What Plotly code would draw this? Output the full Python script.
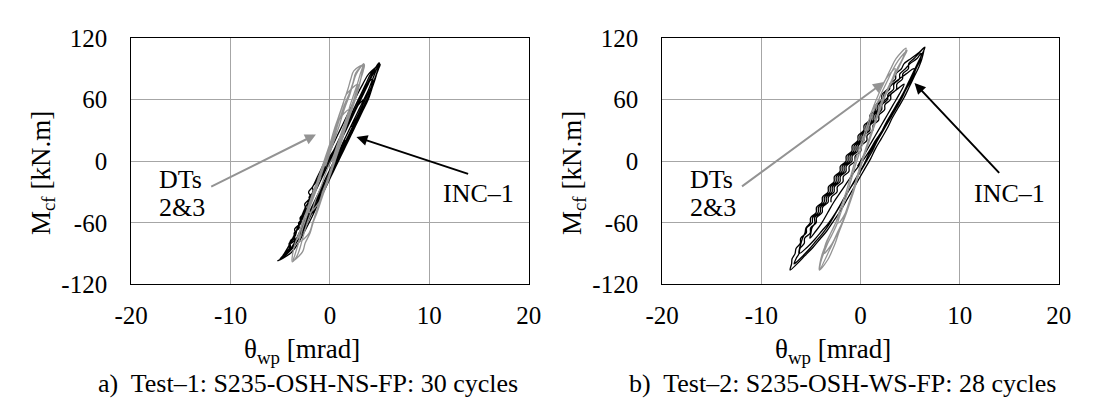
import plotly.graph_objects as go

# ---------------- data ----------------
# Test-1 (S235-OSH-NS-FP): INC-1 inclinometer, panel-zone rotation [mrad] vs column-flange moment [kN.m]
t1_inc_theta = [0.6, 1.1, 1.6, 2.1, 2.6, 3.1, 3.4,
                2.5, 2.0, 1.5, 1.0, 0.5, -0.2, -0.7, -1.2, -1.7, -2.2, -2.7, -3.0,
                -1.75, -1.25, -0.75, -0.25, 0.25, 0.75, 1.25, 1.75, 2.25, 2.75, 3.25, 3.75, 4.1, 4.3,
                3.4, 2.85, 2.35, 1.85, 1.35, 0.85, 0.35, -0.35, -0.85, -1.35, -1.75, -1.7, -2.1, -2.0, -2.5, -2.4, -2.9, -2.9, -3.3, -3.4, -3.9,
                -2.95, -2.45, -1.95, -1.45, -0.95, -0.45, 0.05, 0.55, 1.05, 1.55, 2.1, 2.3, 2.2, 2.55, 3.05, 3.55, 4.05, 4.5, 4.85, 5.0,
                4.1, 3.6, 3.1, 2.6, 2.1, 1.6, 1.1, 0.6, 0.1, -0.4, -0.9, -1.35, -1.3, -1.75, -1.7, -2.2, -2.15, -2.65, -2.6, -3.15, -3.1, -3.6, -3.55, -4.1, -4.1, -4.6, -4.75, -5.25,
                -4.0, -3.2, -2.65, -2.1, -1.6, -1.15, -0.65, -0.15, 0.35, 0.85, 1.35, 1.85, 2.35, 2.85, 3.35, 3.85, 4.2, 4.55, 4.8, 5.05,
                3.9, 3.3, 2.75, 2.25, 1.75, 1.25, 0.75, 0.25, -0.25, -0.75, -1.25, -1.75, -2.15, -1.95, -2.55, -2.35, -3.0, -2.95, -3.55, -3.45, -4.0, -4.0, -4.55, -5.1,
                -4.2, -3.6, -3.1, -2.6, -2.1, -1.6, -1.1, -0.6, -0.1, 0.4, 0.9, 1.4, 1.9, 2.4, 2.9, 3.4, 3.9, 4.3, 4.7, 4.95,
                4.4, 3.9, 3.4, 2.9, 2.4, 1.9, 1.4, 0.9, 0.4, 0.0, -0.5, -1.0, -1.5, -2.0, -2.5, -3.0, -3.5, -4.0, -4.6, -5.0,
                -3.8, -3.1, -2.55, -2.05, -1.55, -1.05, -0.55, -0.05, 0.45, 0.95, 1.45, 1.95, 2.45, 2.95, 3.45, 3.95, 4.35, 4.7, 4.95,
                4.35, 3.85, 3.35, 2.85, 2.35, 1.85, 1.35, 0.85, 0.35, -0.15]
t1_inc_moment = [0, 10, 20, 30, 40, 50, 60,
                 50, 40, 30, 20, 10, 0, -10, -20, -30, -40, -50, -60,
                 -50, -40, -30, -20, -10, 0, 10, 20, 30, 40, 50, 60, 70, 80,
                 70, 60, 50, 40, 30, 20, 10, 0, -10, -20, -25, -30, -35, -40, -45, -50, -55, -60, -65, -70, -80,
                 -70, -60, -50, -40, -30, -20, -10, 0, 10, 20, 25, 30, 35, 40, 50, 60, 70, 80, 90, 95,
                 85, 75, 65, 55, 45, 35, 25, 15, 5, -5, -15, -20, -25, -30, -35, -40, -45, -50, -55, -60, -65, -70, -75, -80, -85, -90, -94, -97,
                 -90, -80, -70, -60, -50, -40, -30, -20, -10, 0, 10, 20, 30, 40, 50, 60, 70, 80, 88, 94,
                 85, 75, 65, 55, 45, 35, 25, 15, 5, -5, -15, -25, -30, -35, -42, -48, -55, -60, -66, -72, -78, -84, -90, -96,
                 -88, -80, -70, -60, -50, -40, -30, -20, -10, 0, 10, 20, 30, 40, 50, 60, 70, 80, 90, 96,
                 88, 78, 68, 58, 48, 38, 28, 18, 8, 0, -10, -20, -30, -40, -50, -60, -70, -80, -90, -96,
                 -85, -75, -65, -55, -45, -35, -25, -15, -5, 5, 15, 25, 35, 45, 55, 65, 75, 85, 92,
                 85, 75, 65, 55, 45, 35, 25, 15, 5, -5]

# Test-1: DTs 2&3 (displacement transducers)
t1_dt_theta = [0.25, 0.6, 0.95, 1.25, 1.6, 1.85,
               0.9, 0.55, 0.2, -0.1, -0.45, -0.8, -1.15, -1.5, -1.9, -2.05,
               -1.1, -0.75, -0.35, 0.0, 0.35, 0.7, 1.05, 1.35, 1.7, 2.05, 2.4, 2.7, 2.8,
               1.65, 1.3, 0.95, 0.65, 0.3, -0.05, -0.4, -0.75, -1.1, -1.45, -1.8, -2.15, -2.55, -2.9, -3.1, -3.0,
               -2.1, -1.75, -1.4, -1.05, -0.7, -0.3, 0.05, 0.4, 0.75, 1.1, 1.4, 1.75, 2.1, 2.45, 2.8, 3.1, 3.35, 3.45,
               2.4, 2.1, 1.8, 1.45, 1.1, 0.75, 0.4, 0.1, -0.25, -0.6, -0.95, -1.3, -1.7, -2.05, -2.4, -2.8, -3.1, -3.5, -3.75, -3.8,
               -3.3, -3.0, -2.75, -2.45, -2.1, -1.7, -1.35, -0.9, -0.55, -0.15, 0.35, 0.7, 1.05, 1.4, 1.75, 2.05, 2.4, 2.75, 3.05, 3.3,
               2.6, 2.3, 1.95, 1.5, 1.15, 0.8, 0.5, 0.15, -0.2, -0.55, -0.9, -1.25, -1.6, -2.0, -2.35, -2.7, -3.0, -3.3, -3.55, -3.7,
               -2.75, -2.5, -2.0, -1.7, -1.3, -0.95, -0.6, -0.2, 0.15, 0.5, 0.85, 1.2, 1.5, 1.85, 2.2, 2.55, 2.85, 3.1, 3.3, 3.4,
               2.65, 2.3, 2.0, 1.6, 1.25, 0.95, 0.6, 0.25, -0.1, -0.45]
t1_dt_moment = [0, 10, 20, 30, 40, 50,
                40, 30, 20, 10, 0, -10, -20, -30, -40, -50,
                -40, -30, -20, -10, 0, 10, 20, 30, 40, 50, 60, 70, 75,
                65, 55, 45, 35, 25, 15, 5, -5, -15, -25, -35, -45, -55, -65, -72, -78,
                -70, -60, -50, -40, -30, -20, -10, 0, 10, 20, 30, 40, 50, 60, 70, 80, 88, 94,
                88, 80, 70, 60, 50, 40, 30, 20, 10, 0, -10, -20, -30, -40, -50, -60, -70, -80, -90, -98,
                -92, -84, -75, -65, -55, -45, -35, -25, -15, -5, 5, 15, 25, 35, 45, 55, 65, 75, 85, 93,
                86, 76, 66, 56, 46, 36, 26, 16, 6, -4, -14, -24, -34, -44, -54, -64, -74, -84, -92, -97,
                -88, -80, -70, -60, -50, -40, -30, -20, -10, 0, 10, 20, 30, 40, 50, 60, 70, 80, 90, 95,
                85, 75, 65, 55, 45, 35, 25, 15, 5, -5]

# Test-2 (S235-OSH-WS-FP): INC-1
t2_inc_theta = [-0.3, 0.3, 0.9, 1.5, 2.1, 2.7, 3.3, 3.9, 4.4,
                3.7, 3.0, 2.53, 1.97, 1.93, 1.37, 1.33, 0.77, 0.73, 0.17, 0.13, -0.43, -0.47, -1.03, -1.07, -1.63, -1.67,
                -2.23, -2.27, -2.83, -2.87, -3.43, -3.47, -4.03, -4.07, -4.63, -4.6, -4.9, -5.0, -5.1,
                -4.5, -3.9, -3.3, -2.7, -2.0, -1.3, -0.6, 0.2, 0.9, 1.5, 2.2, 2.8, 3.4, 4.0, 4.6, 5.1, 5.4,
                4.6, 3.9, 3.2, 2.73, 2.17, 2.13, 1.57, 1.53, 0.97, 0.93, 0.37, 0.33, -0.23, -0.27, -0.83, -0.87, -1.43, -1.47,
                -2.03, -2.07, -2.63, -2.67, -3.23, -3.27, -3.83, -3.87, -4.43, -4.47, -5.03, -5.07, -5.5, -5.6, -5.85, -6.0, -6.15, -6.2,
                -5.4, -4.6, -3.9, -3.2, -2.5, -1.9, -1.3, -0.6, 0.0, 0.6, 1.2, 1.7, 2.3, 2.9, 3.5, 4.1, 4.6, 5.2, 5.6, 6.0, 6.1,
                5.7, 5.0, 4.53, 3.97, 3.93, 3.37, 3.33, 2.77, 2.73, 2.17, 2.13, 1.57, 1.53, 0.97, 0.93, 0.37, 0.33, -0.23, -0.27, -0.83, -0.87,
                -1.43, -1.47, -2.03, -2.07, -2.63, -2.67, -3.23, -3.27, -3.83, -3.87, -4.43, -4.47, -5.03, -5.07, -5.63, -5.67, -6.1, -6.2, -6.5, -6.7,
                -6.0, -5.2, -4.5, -3.8, -3.2, -2.7, -2.1, -1.5, -0.9, -0.3, 0.3, 0.8, 1.4, 2.0, 2.5, 3.1, 3.7, 4.3, 4.8, 5.3, 5.8, 6.2, 6.5,
                5.8, 5.1, 4.4, 4.13, 3.57, 3.53, 2.97, 2.93, 2.37, 2.33, 1.77, 1.73, 1.17, 1.13, 0.57, 0.53, -0.03, -0.07, -0.63, -0.67, -1.23, -1.27,
                -1.83, -1.87, -2.43, -2.47, -3.03, -3.07, -3.63, -3.67, -4.23, -4.27, -4.83, -4.87, -5.43, -5.47, -6.03, -6.07, -6.5, -6.6, -6.9, -6.95, -7.1,
                -6.4, -5.6, -4.8, -4.1, -3.4, -2.7, -2.0, -1.4, -0.8, -0.2, 0.4, 1.0, 1.5, 2.1, 2.7, 3.2, 3.8, 4.4, 4.9, 5.4, 5.9, 6.2, 6.4,
                5.9, 5.4, 4.87, 4.83, 4.27, 4.23, 3.67, 3.63, 3.07, 3.03, 2.47, 2.43, 1.87, 1.83, 1.27, 1.23, 0.67, 0.63, 0.07, 0.03, -0.53, -0.57,
                -1.13, -1.17, -1.73, -1.77, -2.33, -2.37, -2.93, -2.97]
t2_inc_moment = [-5, 5, 15, 25, 35, 45, 55, 65, 75,
                 70, 65, 60, 55, 50, 45, 40, 35, 30, 25, 20, 15, 10, 5, 0, -5, -10,
                 -15, -20, -25, -30, -35, -40, -45, -50, -55, -60, -65, -70, -75,
                 -68, -60, -50, -40, -30, -20, -10, 0, 10, 20, 30, 40, 50, 60, 70, 80, 90,
                 85, 80, 75, 70, 65, 60, 55, 50, 45, 40, 35, 30, 25, 20, 15, 10, 5, 0,
                 -5, -10, -15, -20, -25, -30, -35, -40, -45, -50, -55, -60, -65, -70, -75, -80, -85, -90,
                 -84, -76, -68, -60, -50, -40, -30, -20, -10, 0, 10, 20, 30, 40, 50, 60, 70, 80, 90, 98, 105,
                 100, 95, 90, 85, 80, 75, 70, 65, 60, 55, 50, 45, 40, 35, 30, 25, 20, 15, 10, 5, 0,
                 -5, -10, -15, -20, -25, -30, -35, -40, -45, -50, -55, -60, -65, -70, -75, -80, -85, -90, -95, -100,
                 -94, -86, -78, -70, -62, -54, -44, -34, -24, -14, -4, 6, 16, 26, 36, 46, 56, 66, 76, 86, 96, 104, 111,
                 105, 100, 95, 90, 85, 80, 75, 70, 65, 60, 55, 50, 45, 40, 35, 30, 25, 20, 15, 10, 5, 0,
                 -5, -10, -15, -20, -25, -30, -35, -40, -45, -50, -55, -60, -65, -70, -75, -80, -85, -90, -95, -100, -106,
                 -100, -92, -84, -76, -68, -58, -48, -38, -28, -18, -8, 2, 12, 22, 32, 42, 52, 62, 72, 82, 92, 100, 110,
                 105, 100, 95, 90, 85, 80, 75, 70, 65, 60, 55, 50, 45, 40, 35, 30, 25, 20, 15, 10, 5, 0,
                 -5, -10, -15, -20, -25, -30, -35, -40]

# Test-2: DTs 2&3
t2_dt_theta = [-0.2, 0.1, 0.45, 0.8, 1.15, 1.5, 1.85, 2.1,
               1.2, 0.85, 0.5, 0.15, -0.2, -0.55, -0.85, -1.15, -1.45, -1.8, -2.15, -2.2,
               -1.5, -1.15, -0.8, -0.5, -0.2, 0.1, 0.45, 0.8, 1.15, 1.5, 1.85, 2.25, 2.7, 3.2, 3.5,
               2.55, 2.05, 1.6, 1.2, 0.85, 0.5, 0.15, -0.2, -0.55, -0.85, -1.15, -1.45, -1.8, -2.15, -2.5, -3.0, -3.5, -3.7,
               -2.85, -2.35, -1.85, -1.5, -1.15, -0.8, -0.5, -0.2, 0.1, 0.45, 0.8, 1.15, 1.5, 1.85, 2.25, 2.7, 3.2, 3.7, 4.25, 4.6,
               3.6, 3.05, 2.55, 2.05, 1.6, 1.2, 0.85, 0.5, 0.15, -0.2, -0.55, -0.85, -1.15, -1.45, -1.8, -2.15, -2.5, -3.0, -3.45, -3.85, -4.1, -4.15,
               -3.3, -2.9, -2.55, -2.2, -1.8, -1.4, -1.05, -0.7, -0.4, -0.1, 0.2, 0.55, 0.9, 1.25, 1.6, 1.95, 2.35, 2.8, 3.3, 3.8, 4.3, 4.7,
               3.8, 3.2, 2.7, 2.2, 1.75, 1.3, 0.95, 0.6, 0.25, -0.1, -0.45, -0.75, -1.05, -1.35, -1.7, -2.05, -2.4, -2.9, -3.4, -3.8, -4.05, -4.1,
               -3.1, -2.6, -2.1, -1.7, -1.3, -0.95, -0.6, -0.3, 0.0]
t2_dt_moment = [-10, 0, 10, 20, 30, 40, 50, 60,
                50, 40, 30, 20, 10, 0, -10, -20, -30, -40, -50, -60,
                -50, -40, -30, -20, -10, 0, 10, 20, 30, 40, 50, 60, 70, 80, 90,
                80, 70, 60, 50, 40, 30, 20, 10, 0, -10, -20, -30, -40, -50, -60, -70, -80, -90,
                -80, -70, -60, -50, -40, -30, -20, -10, 0, 10, 20, 30, 40, 50, 60, 70, 80, 90, 100, 110,
                100, 90, 80, 70, 60, 50, 40, 30, 20, 10, 0, -10, -20, -30, -40, -50, -60, -70, -80, -90, -100, -106,
                -96, -88, -80, -70, -60, -50, -40, -30, -20, -10, 0, 10, 20, 30, 40, 50, 60, 70, 80, 90, 100, 108,
                98, 88, 78, 68, 58, 48, 38, 28, 18, 8, -2, -12, -22, -32, -42, -52, -62, -72, -82, -92, -100, -105,
                -86, -76, -66, -56, -46, -36, -26, -16, -6]

x_tick_vals = [-20, -10, 0, 10, 20]
x_tick_text = ["-20", "-10", "0", "10", "20"]
y_tick_vals = [-120, -60, 0, 60, 120]
y_tick_text = ["-120", "-60", "0", "60", "120"]

captions = ["a)\u00a0 Test\u20131: S235-OSH-NS-FP: 30 cycles",
            "b)\u00a0 Test\u20132: S235-OSH-WS-FP: 28 cycles"]

# ---------------- figure ----------------
W, H = 1093, 411
FONT = "Liberation Serif"
BLACK = "black"
GREY = "#939393"


def fx(px):
    return px / W


def fy(py):
    return 1 - py / H


def serif(size):
    return dict(family=FONT, size=size, color=BLACK)


fig = go.Figure()

panels = [
    ("x", "y", t1_inc_theta, t1_inc_moment, t1_dt_theta, t1_dt_moment),
    ("x2", "y2", t2_inc_theta, t2_inc_moment, t2_dt_theta, t2_dt_moment),
]
for xa, ya, inc_t, inc_m, dt_t, dt_m in panels:
    fig.add_trace(go.Scatter(x=inc_t, y=inc_m, mode="lines", xaxis=xa, yaxis=ya,
                             line=dict(color=BLACK, width=1.3, shape="spline", smoothing=1.0),
                             showlegend=False, hoverinfo="skip"))
    fig.add_trace(go.Scatter(x=dt_t, y=dt_m, mode="lines", xaxis=xa, yaxis=ya,
                             line=dict(color=GREY, width=1.3, shape="spline", smoothing=1.0),
                             showlegend=False, hoverinfo="skip"))


def axis(domain, rng, vals, text, anchor, standoff):
    return dict(domain=domain, range=rng, tickvals=vals, ticktext=text, anchor=anchor,
                ticklabelstandoff=standoff, tickfont=serif(25),
                showgrid=True, gridcolor="#a6a6a6", gridwidth=1.3,
                zeroline=False, showline=True, mirror=True, linecolor=BLACK, linewidth=1,
                ticks="")


y_dom = [fy(290.5), fy(26.7)]
fig.update_layout(
    width=W, height=H, margin=dict(l=0, r=0, t=0, b=0),
    paper_bgcolor="white", plot_bgcolor="white",
    xaxis=axis([fx(117.4), fx(526.2)], [-20, 20], x_tick_vals, x_tick_text, "y", 9),
    yaxis=axis(y_dom, [-120, 120], y_tick_vals, y_tick_text, "x", 18),
    xaxis2=axis([fx(663.4), fx(1071.2)], [-20, 20], x_tick_vals, x_tick_text, "y2", 9),
    yaxis2=axis(y_dom, [-120, 120], y_tick_vals, y_tick_text, "x2", 18),
)

offsets = [0, 546]
for i in range(2):
    dx = offsets[i]
    # axis titles
    fig.add_annotation(xref="paper", yref="paper", x=fx(dx + 293.5), y=fy(362), xanchor="center", yanchor="middle",
                       text="\u03b8<sub>wp</sub> [mrad]", showarrow=False, font=serif(27))
    fig.add_annotation(xref="paper", yref="paper", x=fx(dx + 26), y=fy(171), xanchor="center", yanchor="middle",
                       textangle=-90, text="M<sub>cf</sub> [kN.m]", showarrow=False, font=serif(27))
    # caption
    fig.add_annotation(xref="paper", yref="paper", x=fx(dx + 81.6), y=fy(397), xanchor="left", yanchor="middle",
                       text=captions[i], showarrow=False, font=serif(26))
    # labels
    fig.add_annotation(xref="paper", yref="paper", x=fx(dx + 144), y=fy(178), xanchor="left", yanchor="middle",
                       text="DTs", showarrow=False, font=serif(26))
    fig.add_annotation(xref="paper", yref="paper", x=fx(dx + 144), y=fy(208), xanchor="left", yanchor="middle",
                       text="2&amp;3", showarrow=False, font=serif(26))
    fig.add_annotation(xref="paper", yref="paper", x=fx(dx + 436), y=fy(193), xanchor="left", yanchor="middle",
                       text="INC\u20131", showarrow=False, font=serif(26))

# pointer arrows (head x,y ; tail ax,ay) in data units
arrows = [
    ("x", "y", -1.41, 26.0, -12.1, -25.6, GREY),
    ("x", "y", 2.66, 23.6, 14.05, -12.8, BLACK),
    ("x2", "y2", 2.38, 77.0, -12.1, -25.6, GREY),
    ("x2", "y2", 5.45, 76.1, 14.13, -12.8, BLACK),
]
for xa, ya, hx, hy, tx, ty, col in arrows:
    fig.add_annotation(xref=xa, yref=ya, axref=xa, ayref=ya, x=hx, y=hy, ax=tx, ay=ty, text="",
                       showarrow=True, arrowhead=2, arrowsize=1.1, arrowwidth=2, arrowcolor=col,
                       standoff=0, startstandoff=0)

fig.write_html("out.html")
